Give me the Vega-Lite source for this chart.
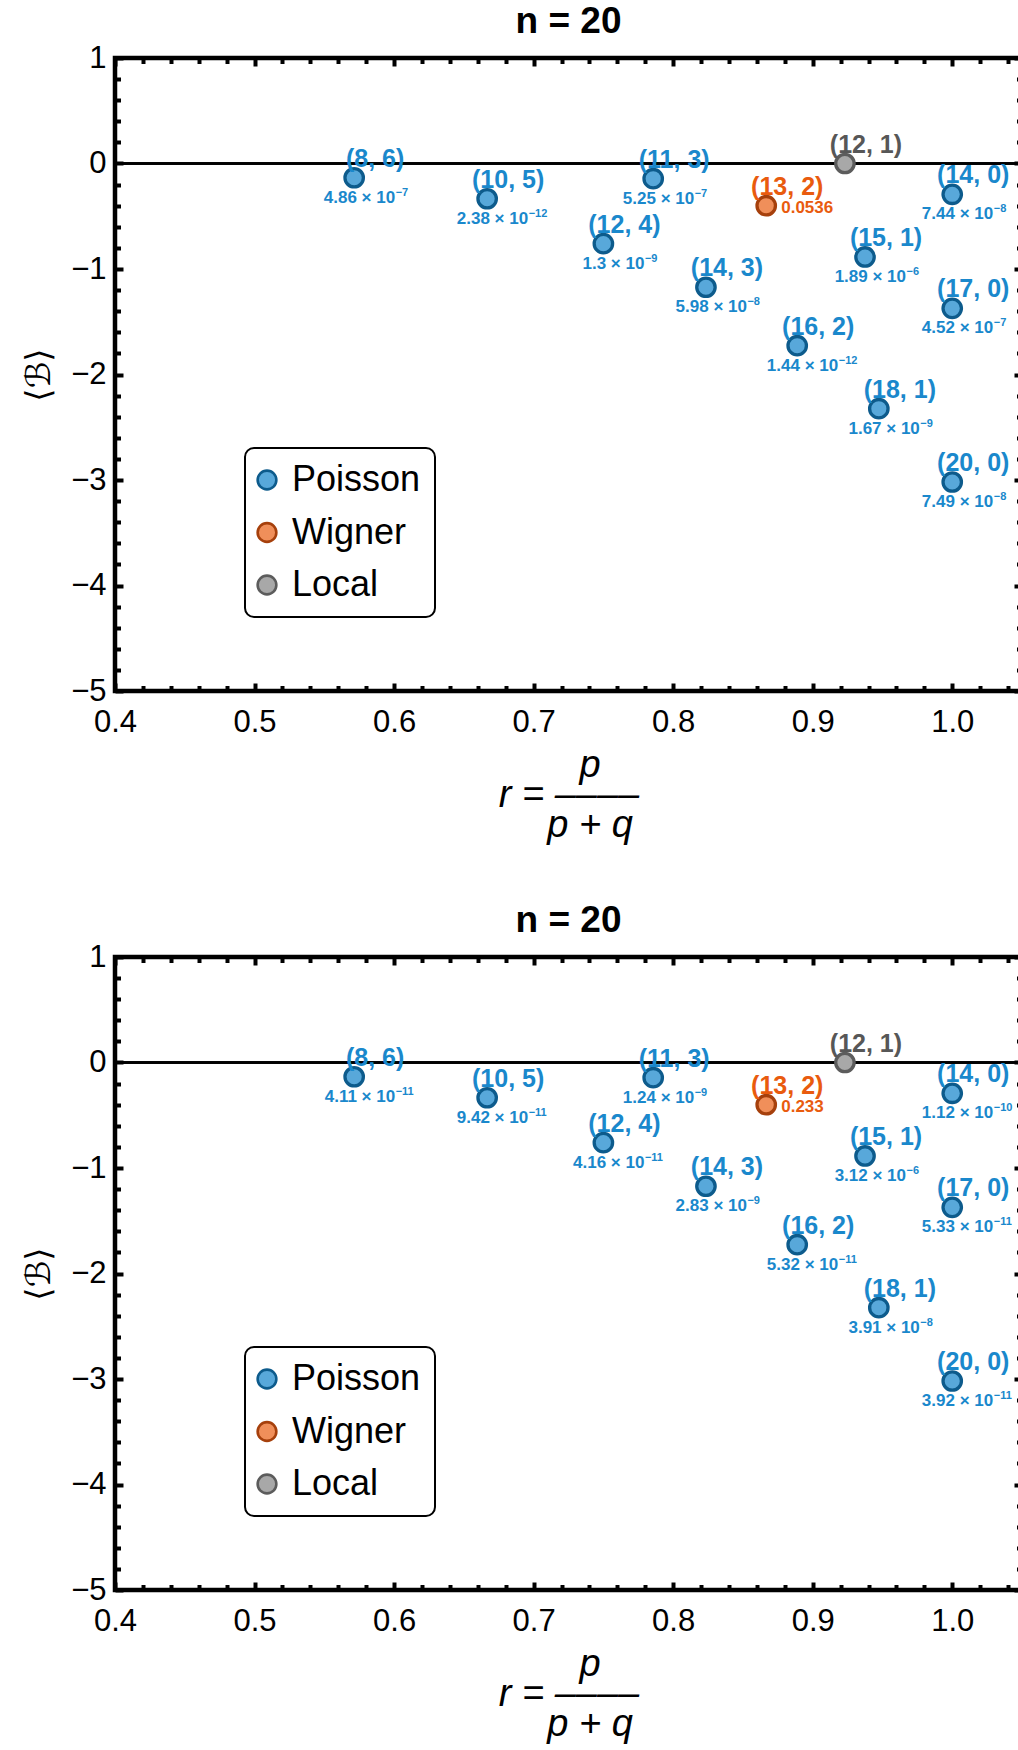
{
  "$schema": "https://vega.github.io/schema/vega-lite/v6.json",
  "padding": {"left": 20, "top": 0, "right": 0, "bottom": 0},
  "spacing": 52,
  "config": {
    "font": "Liberation Sans",
    "view": {"stroke": "black", "strokeWidth": 4.5},
    "axis": {
      "domain": false,
      "grid": false,
      "tickColor": "black",
      "tickWidth": 4,
      "labelFont": "Liberation Sans",
      "labelFontSize": 31,
      "labelColor": "black",
      "labelFlush": false,
      "labelOverlap": false,
      "titleColor": "black"
    },
    "title": {"font": "Liberation Sans", "fontSize": 37, "fontWeight": "bold", "color": "black", "frame": "group", "anchor": "middle", "offset": 1},
    "legend": {
      "title": null,
      "strokeColor": "black",
      "strokeWidth": 2,
      "cornerRadius": 9,
      "fillColor": "white",
      "padding": 14,
      "labelFont": "Liberation Sans",
      "labelFontSize": 36,
      "labelColor": "black",
      "labelOffset": 7,
      "symbolOffset": -10,
      "rowPadding": 16.5,
      "symbolType": "circle",
      "symbolSize": 350,
      "symbolStrokeWidth": 2.6
    }
  },
  "datasets": {
    "upper": [
      {"p": 8, "q": 6, "r": 0.5714, "B": -0.135, "kind": "Poisson", "pair": "(8, 6)", "mant": "4.86 × 10", "exp": "−7"},
      {"p": 10, "q": 5, "r": 0.6667, "B": -0.334, "kind": "Poisson", "pair": "(10, 5)", "mant": "2.38 × 10", "exp": "−12"},
      {"p": 11, "q": 3, "r": 0.7857, "B": -0.144, "kind": "Poisson", "pair": "(11, 3)", "mant": "5.25 × 10", "exp": "−7"},
      {"p": 12, "q": 4, "r": 0.75, "B": -0.76, "kind": "Poisson", "pair": "(12, 4)", "mant": "1.3 × 10", "exp": "−9"},
      {"p": 14, "q": 3, "r": 0.8235, "B": -1.173, "kind": "Poisson", "pair": "(14, 3)", "mant": "5.98 × 10", "exp": "−8"},
      {"p": 13, "q": 2, "r": 0.8667, "B": -0.4, "kind": "Wigner", "pair": "(13, 2)", "mant": "0.0536", "exp": ""},
      {"p": 16, "q": 2, "r": 0.8889, "B": -1.727, "kind": "Poisson", "pair": "(16, 2)", "mant": "1.44 × 10", "exp": "−12"},
      {"p": 12, "q": 1, "r": 0.9231, "B": 0.0, "kind": "Local", "pair": "(12, 1)", "mant": "", "exp": ""},
      {"p": 15, "q": 1, "r": 0.9375, "B": -0.886, "kind": "Poisson", "pair": "(15, 1)", "mant": "1.89 × 10", "exp": "−6"},
      {"p": 18, "q": 1, "r": 0.9474, "B": -2.324, "kind": "Poisson", "pair": "(18, 1)", "mant": "1.67 × 10", "exp": "−9"},
      {"p": 14, "q": 0, "r": 1.0, "B": -0.292, "kind": "Poisson", "pair": "(14, 0)", "mant": "7.44 × 10", "exp": "−8"},
      {"p": 17, "q": 0, "r": 1.0, "B": -1.373, "kind": "Poisson", "pair": "(17, 0)", "mant": "4.52 × 10", "exp": "−7"},
      {"p": 20, "q": 0, "r": 1.0, "B": -3.019, "kind": "Poisson", "pair": "(20, 0)", "mant": "7.49 × 10", "exp": "−8"}
    ],
    "lower": [
      {"p": 8, "q": 6, "r": 0.5714, "B": -0.135, "kind": "Poisson", "pair": "(8, 6)", "mant": "4.11 × 10", "exp": "−11"},
      {"p": 10, "q": 5, "r": 0.6667, "B": -0.334, "kind": "Poisson", "pair": "(10, 5)", "mant": "9.42 × 10", "exp": "−11"},
      {"p": 11, "q": 3, "r": 0.7857, "B": -0.144, "kind": "Poisson", "pair": "(11, 3)", "mant": "1.24 × 10", "exp": "−9"},
      {"p": 12, "q": 4, "r": 0.75, "B": -0.76, "kind": "Poisson", "pair": "(12, 4)", "mant": "4.16 × 10", "exp": "−11"},
      {"p": 14, "q": 3, "r": 0.8235, "B": -1.173, "kind": "Poisson", "pair": "(14, 3)", "mant": "2.83 × 10", "exp": "−9"},
      {"p": 13, "q": 2, "r": 0.8667, "B": -0.4, "kind": "Wigner", "pair": "(13, 2)", "mant": "0.233", "exp": ""},
      {"p": 16, "q": 2, "r": 0.8889, "B": -1.727, "kind": "Poisson", "pair": "(16, 2)", "mant": "5.32 × 10", "exp": "−11"},
      {"p": 12, "q": 1, "r": 0.9231, "B": 0.0, "kind": "Local", "pair": "(12, 1)", "mant": "", "exp": ""},
      {"p": 15, "q": 1, "r": 0.9375, "B": -0.886, "kind": "Poisson", "pair": "(15, 1)", "mant": "3.12 × 10", "exp": "−6"},
      {"p": 18, "q": 1, "r": 0.9474, "B": -2.324, "kind": "Poisson", "pair": "(18, 1)", "mant": "3.91 × 10", "exp": "−8"},
      {"p": 14, "q": 0, "r": 1.0, "B": -0.292, "kind": "Poisson", "pair": "(14, 0)", "mant": "1.12 × 10", "exp": "−10"},
      {"p": 17, "q": 0, "r": 1.0, "B": -1.373, "kind": "Poisson", "pair": "(17, 0)", "mant": "5.33 × 10", "exp": "−11"},
      {"p": 20, "q": 0, "r": 1.0, "B": -3.019, "kind": "Poisson", "pair": "(20, 0)", "mant": "3.92 × 10", "exp": "−11"}
    ]
  },
  "resolve": {
    "scale": {"x": "independent", "y": "independent", "fill": "independent", "stroke": "independent", "color": "independent"},
    "legend": {"fill": "independent", "stroke": "independent"}
  },
  "vconcat": [
    {
      "width": 907,
      "height": 633,
      "title": "n = 20",
      "data": {"name": "upper"},
      "resolve": {"axis": {"x": "independent", "y": "independent"}},
      "layer": [
        {
          "mark": {"type": "rule", "color": "black", "strokeWidth": 1.3},
          "encoding": {
            "y": {"datum": 0, "type": "quantitative", "scale": {"domain": [-5, 1], "nice": false, "zero": false},
              "axis": {"orient": "left", "values": [-4.8, -4.6, -4.4, -4.2, -3.8, -3.6, -3.4, -3.2, -2.8, -2.6, -2.4, -2.2, -1.8, -1.6, -1.4, -1.2, -0.8, -0.6, -0.4, -0.2, 0.2, 0.4, 0.6, 0.8], "tickSize": -5.5, "labels": false, "title": null}}
          }
        },
        {
          "mark": {"type": "point", "shape": "circle", "filled": true, "opacity": 1, "size": 339, "strokeWidth": 3.3},
          "encoding": {
            "x": {"field": "r", "type": "quantitative", "scale": {"domain": [0.4, 1.05], "nice": false, "zero": false},
              "axis": {"orient": "bottom", "values": [0.4, 0.5, 0.6, 0.7, 0.8, 0.9, 1.0], "format": ".1f", "tickSize": -8, "labelPadding": 24,
                "title": ["\u200b\u00a0\u00a0\u00a0\u00a0p", "r = \u2013\u2013\u2013\u2013", "\u200b\u00a0\u00a0\u00a0\u00a0p + q"],
                "titleFont": "Liberation Sans", "titleFontStyle": "italic", "titleFontWeight": "normal", "titleFontSize": 38, "titleLineHeight": 30, "titlePadding": 9}},
            "y": {"field": "B", "type": "quantitative", "scale": {"domain": [-5, 1], "nice": false, "zero": false},
              "axis": {"orient": "left", "values": [-5, -4, -3, -2, -1, 0, 1], "format": "d", "tickSize": -8, "labelPadding": 17,
                "title": "⟨ℬ⟩", "titleFont": "DejaVu Sans", "titleFontWeight": "normal", "titleFontSize": 34, "titlePadding": 14}},
            "fill": {"field": "kind", "type": "nominal", "scale": {"domain": ["Poisson", "Wigner", "Local"], "range": ["#58a8da", "#f08f5a", "#a8a8a8"]},
              "legend": {"orient": "none", "legendX": 130, "legendY": 390}},
            "stroke": {"field": "kind", "type": "nominal", "scale": {"domain": ["Poisson", "Wigner", "Local"], "range": ["#0d5b8c", "#a6400c", "#5c5c5c"]},
              "legend": {"orient": "none", "legendX": 130, "legendY": 390}}
          }
        },
        {
          "mark": {"type": "text", "font": "Liberation Sans", "fontWeight": "bold", "fontSize": 25, "align": "center", "baseline": "alphabetic", "dx": 21, "dy": -11},
          "encoding": {
            "x": {"field": "r", "type": "quantitative", "axis": {"orient": "top", "values": [0.4, 0.5, 0.6, 0.7, 0.8, 0.9, 1.0], "tickSize": -8, "labels": false, "title": null}},
            "y": {"field": "B", "type": "quantitative", "axis": {"orient": "right", "values": [-5, -4, -3, -2, -1, 0, 1], "tickSize": -8, "labels": false, "title": null}},
            "text": {"field": "pair"},
            "color": {"field": "kind", "type": "nominal", "legend": null, "scale": {"domain": ["Poisson", "Wigner", "Local"], "range": ["#1a88cc", "#e95b0e", "#575757"]}}
          }
        },
        {
          "transform": [{"filter": "datum.kind == 'Poisson'"}],
          "mark": {"type": "text", "font": "Liberation Sans", "fontWeight": "bold", "fontSize": 17, "align": "right", "baseline": "alphabetic", "dx": 41, "dy": 25, "color": "#1a88cc"},
          "encoding": {
            "x": {"field": "r", "type": "quantitative", "axis": {"orient": "top", "values": [0.42, 0.44, 0.46, 0.48, 0.52, 0.54, 0.56, 0.58, 0.62, 0.64, 0.66, 0.68, 0.72, 0.74, 0.76, 0.78, 0.82, 0.84, 0.86, 0.88, 0.92, 0.94, 0.96, 0.98, 1.02, 1.04], "tickSize": -5.5, "labels": false, "title": null}},
            "y": {"field": "B", "type": "quantitative", "axis": {"orient": "right", "values": [-4.8, -4.6, -4.4, -4.2, -3.8, -3.6, -3.4, -3.2, -2.8, -2.6, -2.4, -2.2, -1.8, -1.6, -1.4, -1.2, -0.8, -0.6, -0.4, -0.2, 0.2, 0.4, 0.6, 0.8], "tickSize": -5.5, "labels": false, "title": null}},
            "text": {"field": "mant"}
          }
        },
        {
          "transform": [{"filter": "datum.kind == 'Poisson'"}],
          "mark": {"type": "text", "font": "Liberation Sans", "fontWeight": "bold", "fontSize": 11, "align": "left", "baseline": "alphabetic", "dx": 41.5, "dy": 18, "color": "#1a88cc"},
          "encoding": {
            "x": {"field": "r", "type": "quantitative", "axis": null},
            "y": {"field": "B", "type": "quantitative", "axis": null},
            "text": {"field": "exp"}
          }
        },
        {
          "transform": [{"filter": "datum.kind == 'Wigner'"}],
          "mark": {"type": "text", "font": "Liberation Sans", "fontWeight": "bold", "fontSize": 17, "align": "left", "baseline": "middle", "dx": 15, "dy": 2, "color": "#e95b0e"},
          "encoding": {
            "x": {"field": "r", "type": "quantitative", "axis": {"orient": "bottom", "values": [0.42, 0.44, 0.46, 0.48, 0.52, 0.54, 0.56, 0.58, 0.62, 0.64, 0.66, 0.68, 0.72, 0.74, 0.76, 0.78, 0.82, 0.84, 0.86, 0.88, 0.92, 0.94, 0.96, 0.98, 1.02, 1.04], "tickSize": -5.5, "labels": false, "title": null}},
            "y": {"field": "B", "type": "quantitative", "axis": null},
            "text": {"field": "mant"}
          }
        }
      ]
    },
    {
      "width": 907,
      "height": 633,
      "title": "n = 20",
      "data": {"name": "lower"},
      "resolve": {"axis": {"x": "independent", "y": "independent"}},
      "layer": [
        {
          "mark": {"type": "rule", "color": "black", "strokeWidth": 1.3},
          "encoding": {
            "y": {"datum": 0, "type": "quantitative", "scale": {"domain": [-5, 1], "nice": false, "zero": false},
              "axis": {"orient": "left", "values": [-4.8, -4.6, -4.4, -4.2, -3.8, -3.6, -3.4, -3.2, -2.8, -2.6, -2.4, -2.2, -1.8, -1.6, -1.4, -1.2, -0.8, -0.6, -0.4, -0.2, 0.2, 0.4, 0.6, 0.8], "tickSize": -5.5, "labels": false, "title": null}}
          }
        },
        {
          "mark": {"type": "point", "shape": "circle", "filled": true, "opacity": 1, "size": 339, "strokeWidth": 3.3},
          "encoding": {
            "x": {"field": "r", "type": "quantitative", "scale": {"domain": [0.4, 1.05], "nice": false, "zero": false},
              "axis": {"orient": "bottom", "values": [0.4, 0.5, 0.6, 0.7, 0.8, 0.9, 1.0], "format": ".1f", "tickSize": -8, "labelPadding": 24,
                "title": ["\u200b\u00a0\u00a0\u00a0\u00a0p", "r = \u2013\u2013\u2013\u2013", "\u200b\u00a0\u00a0\u00a0\u00a0p + q"],
                "titleFont": "Liberation Sans", "titleFontStyle": "italic", "titleFontWeight": "normal", "titleFontSize": 38, "titleLineHeight": 30, "titlePadding": 9}},
            "y": {"field": "B", "type": "quantitative", "scale": {"domain": [-5, 1], "nice": false, "zero": false},
              "axis": {"orient": "left", "values": [-5, -4, -3, -2, -1, 0, 1], "format": "d", "tickSize": -8, "labelPadding": 17,
                "title": "⟨ℬ⟩", "titleFont": "DejaVu Sans", "titleFontWeight": "normal", "titleFontSize": 34, "titlePadding": 14}},
            "fill": {"field": "kind", "type": "nominal", "scale": {"domain": ["Poisson", "Wigner", "Local"], "range": ["#58a8da", "#f08f5a", "#a8a8a8"]},
              "legend": {"orient": "none", "legendX": 130, "legendY": 390}},
            "stroke": {"field": "kind", "type": "nominal", "scale": {"domain": ["Poisson", "Wigner", "Local"], "range": ["#0d5b8c", "#a6400c", "#5c5c5c"]},
              "legend": {"orient": "none", "legendX": 130, "legendY": 390}}
          }
        },
        {
          "mark": {"type": "text", "font": "Liberation Sans", "fontWeight": "bold", "fontSize": 25, "align": "center", "baseline": "alphabetic", "dx": 21, "dy": -11},
          "encoding": {
            "x": {"field": "r", "type": "quantitative", "axis": {"orient": "top", "values": [0.4, 0.5, 0.6, 0.7, 0.8, 0.9, 1.0], "tickSize": -8, "labels": false, "title": null}},
            "y": {"field": "B", "type": "quantitative", "axis": {"orient": "right", "values": [-5, -4, -3, -2, -1, 0, 1], "tickSize": -8, "labels": false, "title": null}},
            "text": {"field": "pair"},
            "color": {"field": "kind", "type": "nominal", "legend": null, "scale": {"domain": ["Poisson", "Wigner", "Local"], "range": ["#1a88cc", "#e95b0e", "#575757"]}}
          }
        },
        {
          "transform": [{"filter": "datum.kind == 'Poisson'"}],
          "mark": {"type": "text", "font": "Liberation Sans", "fontWeight": "bold", "fontSize": 17, "align": "right", "baseline": "alphabetic", "dx": 41, "dy": 25, "color": "#1a88cc"},
          "encoding": {
            "x": {"field": "r", "type": "quantitative", "axis": {"orient": "top", "values": [0.42, 0.44, 0.46, 0.48, 0.52, 0.54, 0.56, 0.58, 0.62, 0.64, 0.66, 0.68, 0.72, 0.74, 0.76, 0.78, 0.82, 0.84, 0.86, 0.88, 0.92, 0.94, 0.96, 0.98, 1.02, 1.04], "tickSize": -5.5, "labels": false, "title": null}},
            "y": {"field": "B", "type": "quantitative", "axis": {"orient": "right", "values": [-4.8, -4.6, -4.4, -4.2, -3.8, -3.6, -3.4, -3.2, -2.8, -2.6, -2.4, -2.2, -1.8, -1.6, -1.4, -1.2, -0.8, -0.6, -0.4, -0.2, 0.2, 0.4, 0.6, 0.8], "tickSize": -5.5, "labels": false, "title": null}},
            "text": {"field": "mant"}
          }
        },
        {
          "transform": [{"filter": "datum.kind == 'Poisson'"}],
          "mark": {"type": "text", "font": "Liberation Sans", "fontWeight": "bold", "fontSize": 11, "align": "left", "baseline": "alphabetic", "dx": 41.5, "dy": 18, "color": "#1a88cc"},
          "encoding": {
            "x": {"field": "r", "type": "quantitative", "axis": null},
            "y": {"field": "B", "type": "quantitative", "axis": null},
            "text": {"field": "exp"}
          }
        },
        {
          "transform": [{"filter": "datum.kind == 'Wigner'"}],
          "mark": {"type": "text", "font": "Liberation Sans", "fontWeight": "bold", "fontSize": 17, "align": "left", "baseline": "middle", "dx": 15, "dy": 2, "color": "#e95b0e"},
          "encoding": {
            "x": {"field": "r", "type": "quantitative", "axis": {"orient": "bottom", "values": [0.42, 0.44, 0.46, 0.48, 0.52, 0.54, 0.56, 0.58, 0.62, 0.64, 0.66, 0.68, 0.72, 0.74, 0.76, 0.78, 0.82, 0.84, 0.86, 0.88, 0.92, 0.94, 0.96, 0.98, 1.02, 1.04], "tickSize": -5.5, "labels": false, "title": null}},
            "y": {"field": "B", "type": "quantitative", "axis": null},
            "text": {"field": "mant"}
          }
        }
      ]
    }
  ]
}
